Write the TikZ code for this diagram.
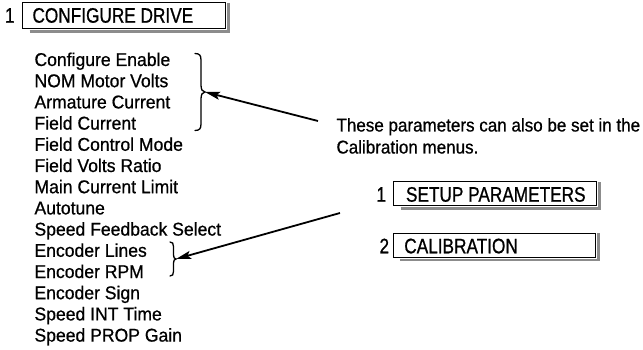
\documentclass[tikz,border=0pt]{standalone}
\usepackage{fontspec}
\setmainfont{Liberation Sans}
\newfontfamily\listfont[FakeStretch=0.95,FakeBold=0.7]{Liberation Sans}
\newfontfamily\notefont[FakeStretch=0.92,FakeBold=0.7]{Liberation Sans}
\newfontfamily\menufont[FakeStretch=0.82,FakeBold=0.8]{Liberation Sans}
\usetikzlibrary{arrows.meta}
\begin{document}
\begin{tikzpicture}[x=1pt,y=-1pt,
  lst/.style={font=\listfont\fontsize{18.5}{21}\selectfont, inner sep=0pt, outer sep=0pt, anchor=base west},
  notetext/.style={font=\notefont\fontsize{18.5}{21}\selectfont, inner sep=0pt, outer sep=0pt, anchor=base west},
  mnu/.style={font=\menufont\fontsize{21}{24}\selectfont, inner sep=0pt, outer sep=0pt, anchor=base west},
  menubox/.style={draw, line width=1pt, inner sep=0pt, outer sep=0pt, anchor=north west},
  shadowline/.style={draw=black!45, line width=2.7pt, line join=miter},
  bracestyle/.style={line width=1.3pt, line cap=round},
  callout/.style={line width=1.8pt, -{Stealth[length=15pt,width=8pt,inset=3pt]}}]
\useasboundingbox (0,0) rectangle (643,350);
% CONFIGURE DRIVE
\node[menubox, minimum width=202.6pt, minimum height=25.8pt] (cfgbox) at (22.7,2.7) {};
\draw[shadowline] ([xshift=7pt,yshift=-3pt]cfgbox.south west) -- ([xshift=3pt,yshift=-3pt]cfgbox.south east) -- ([xshift=3pt]cfgbox.north east);
\node[mnu] (cfgnum) at (5,22.7) {1};
\node[mnu] (cfg) at (32.5,22.7) {CONFIGURE DRIVE};
% parameter list
\foreach \t [count=\i] in {Configure Enable, NOM Motor Volts, Armature Current, Field Current, Field Control Mode, Field Volts Ratio, Main Current Limit, Autotune, Speed Feedback Select, Encoder Lines, Encoder RPM, Encoder Sign, Speed INT Time, Speed PROP Gain}
  \node[lst] (p\i) at (34.5,{66+21.2*(\i-1)}) {\t};
% braces
\coordinate (b1tip) at (205,92);
\draw[bracestyle] (195,53.5) .. controls (199.5,53.5) and (201,55.5) .. (201,60) -- (201,85) .. controls (201,89.5) and (202.5,92) .. (b1tip) .. controls (202.5,92) and (201,94.5) .. (201,99) -- (201,124) .. controls (201,128.5) and (199.5,130.5) .. (195,130.5);
\coordinate (b2tip) at (176,259);
\draw[bracestyle] (170,242) .. controls (172.5,242) and (173.5,243.5) .. (173.5,246.5) -- (173.5,255) .. controls (173.5,257.5) and (174.5,259) .. (b2tip) .. controls (174.5,259) and (173.5,260.5) .. (173.5,263) -- (173.5,271.5) .. controls (173.5,274.5) and (172.5,276) .. (170,276);
% note
\node[notetext] (note1) at (336.5,131.5) {These parameters can also be set in the};
\node[notetext] (note2) at (336.5,153.5) {Calibration menus.};
% callout arrows
\coordinate (a1) at (318,121);
\coordinate (a2) at (340,213);
\draw[callout] (a1) -- (b1tip);
\draw[callout] (a2) -- (b2tip);
% SETUP PARAMETERS
\node[menubox, minimum width=203pt, minimum height=23.5pt] (setbox) at (393.5,182) {};
\draw[shadowline] ([xshift=7pt,yshift=-3pt]setbox.south west) -- ([xshift=3pt,yshift=-3pt]setbox.south east) -- ([xshift=3pt]setbox.north east);
\node[mnu] (setnum) at (376.5,201.7) {1};
\node[mnu] (set) at (406,201.7) {SETUP PARAMETERS};
% CALIBRATION
\node[menubox, minimum width=202.4pt, minimum height=24pt] (calbox) at (393.3,233) {};
\draw[shadowline] ([xshift=7pt,yshift=-3pt]calbox.south west) -- ([xshift=3pt,yshift=-3pt]calbox.south east) -- ([xshift=3pt]calbox.north east);
\node[mnu] (calnum) at (379.5,253.3) {2};
\node[mnu] (cal) at (404.3,253.3) {CALIBRATION};
\end{tikzpicture}
\end{document}
